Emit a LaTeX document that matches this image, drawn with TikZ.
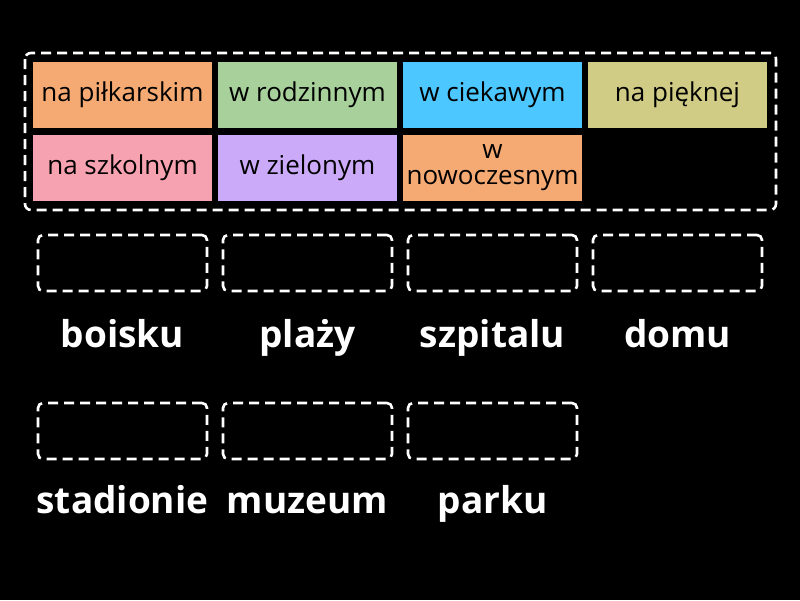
\documentclass[tikz,border=0pt]{standalone}
\usepackage{fontspec}
\setmainfont{Open Sans}
\definecolor{tileorange}{RGB}{246,170,115}
\definecolor{tilegreen}{RGB}{167,208,155}
\definecolor{tileblue}{RGB}{76,199,255}
\definecolor{tileolive}{RGB}{208,204,133}
\definecolor{tilepink}{RGB}{247,162,176}
\definecolor{tilepurple}{RGB}{204,170,250}
\tikzset{
  tile/.style={minimum width=179pt, minimum height=66pt, inner sep=0pt, align=center, font=\fontsize{26}{26}\selectfont, text=black},
  slot/.style={draw=white, line width=2.6pt, dash pattern=on 10pt off 6pt, rounded corners=5pt, minimum width=169pt, minimum height=56pt},
  word/.style={text=white, anchor=base, inner sep=0pt, font=\fontsize{37}{40}\selectfont\bfseries}
}
\begin{document}
\begin{tikzpicture}[x=1pt, y=-1pt]
          \fill [black] (0,0) rectangle (800,600);
          \useasboundingbox (0,0) rectangle (800,600);
          \draw [white, line width=2.6pt, dash pattern=on 10pt off 6pt, rounded corners=6pt] (25,53) rectangle (776,210);
          \node [tile, fill=tileorange] (pilkarskim) at (122.5, 95) {na piłkarskim};
          \node [tile, fill=tilegreen] (rodzinnym) at (307.5, 95) {w rodzinnym};
          \node [tile, fill=tileblue] (ciekawym) at (492.5, 95) {w ciekawym};
          \node [tile, fill=tileolive] (pieknej) at (677.5, 95) {na pięknej};
          \node [tile, fill=tilepink] (szkolnym) at (122.5, 168) {na szkolnym};
          \node [tile, fill=tilepurple] (zielonym) at (307.5, 168) {w zielonym};
          \node [tile, fill=tileorange] (nowoczesnym) at (492.5, 168) {w\\nowoczesnym};
          \node [slot] (slotboisku) at (122.5, 263) {};
          \node [slot] (slotplazy) at (307.5, 263) {};
          \node [slot] (slotszpitalu) at (492.5, 263) {};
          \node [slot] (slotdomu) at (677.5, 263) {};
          \node [slot] (slotstadionie) at (122.5, 431) {};
          \node [slot] (slotmuzeum) at (307.5, 431) {};
          \node [slot] (slotparku) at (492.5, 431) {};
          \node [word] (boisku) at (122.5, 347) {boisku};
          \node [word] (plazy) at (307.5, 347) {plaży};
          \node [word] (szpitalu) at (492.5, 347) {szpitalu};
          \node [word] (domu) at (677.5, 347) {domu};
          \node [word] (stadionie) at (122.5, 513) {stadionie};
          \node [word] (muzeum) at (307.5, 513) {muzeum};
          \node [word] (parku) at (492.5, 513) {parku};
        \end{tikzpicture}
\end{document}
